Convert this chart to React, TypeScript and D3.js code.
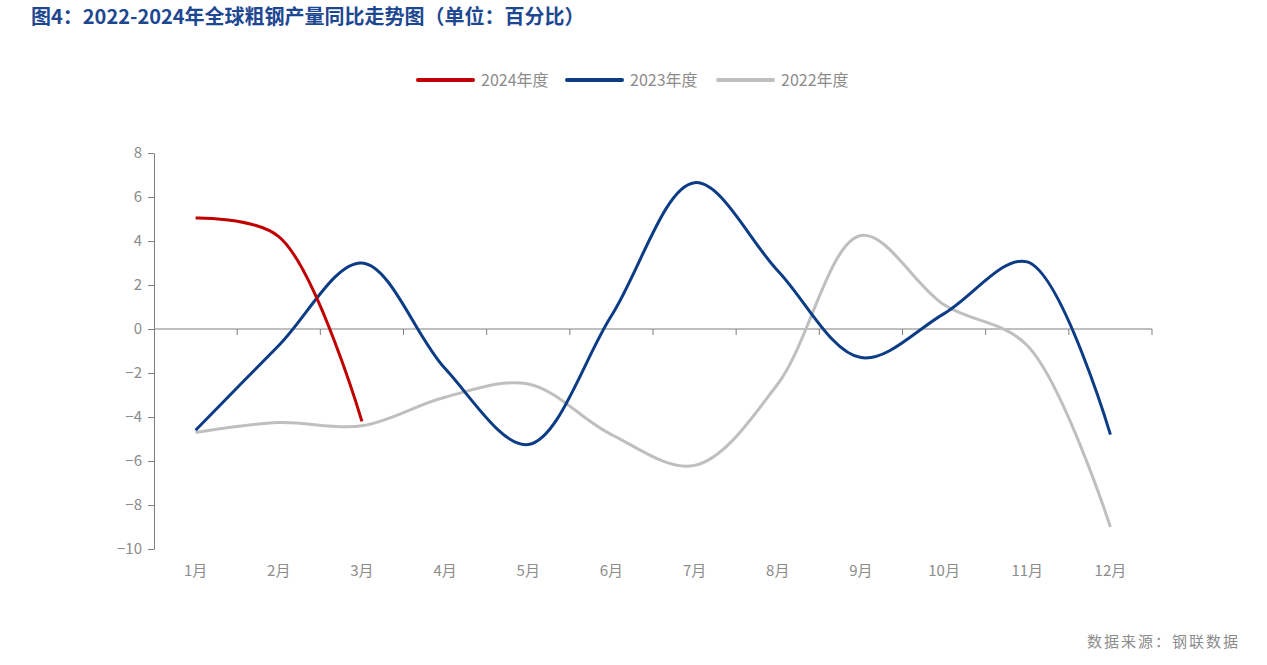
import React, { useEffect, useRef } from "react";
import * as d3 from "d3";

// months and yearly series (% YoY)
const months = ["1月", "2月", "3月", "4月", "5月", "6月", "7月", "8月", "9月", "10月", "11月", "12月"];
const y2024 = [5.05, 4.2, -4.2];
const y2023 = [-4.6, -0.75, 3.0, -1.8, -5.25, 0.6, 6.65, 2.65, -1.3, 0.7, 3.05, -4.8];
const y2022 = [-4.7, -4.25, -4.4, -3.1, -2.5, -4.8, -6.2, -2.5, 4.25, 1.1, -0.75, -9.0];
const yTicks = [-10, -8, -6, -4, -2, 0, 2, 4, 6, 8];

const series = [
  { name: "2024年度", values: y2024, color: "#C00000" },
  { name: "2023年度", values: y2023, color: "#0B3C85" },
  { name: "2022年度", values: y2022, color: "#BFBFBF" },
];

const W = 1267;
const H = 665;
const FONT = "'Noto Sans CJK SC', 'Noto Sans', sans-serif";

const App = () => {
  const ref = useRef<SVGSVGElement>(null);

  useEffect(() => {
    const svg = d3.select(ref.current);
    svg.selectAll("*").remove();

    const left = 154, right = 1152, top = 153, bottom = 549;

    const x = d3.scaleBand().domain(months).range([left, right]);
    const y = d3.scaleLinear().domain([-10, 8]).range([bottom, top]);

    svg.append("rect").attr("width", W).attr("height", H).attr("fill", "#fff");

    // title
    svg.append("text")
      .attr("x", 31).attr("y", 24)
      .attr("fill", "#1D4790")
      .style("font-family", FONT)
      .style("font-weight", "bold")
      .style("font-size", "20px")
      .text("图4：2022-2024年全球粗钢产量同比走势图（单位：百分比）");

    // legend
    const legendX = [418, 567, 718];
    series.forEach((s, i) => {
      const g = svg.append("g").attr("transform", `translate(${legendX[i]}, 80)`);
      g.append("line")
        .attr("x1", 0).attr("x2", 55).attr("y1", 0).attr("y2", 0)
        .attr("stroke", s.color).attr("stroke-width", 4).attr("stroke-linecap", "round");
      g.append("text")
        .attr("x", 63).attr("y", 6)
        .attr("fill", "#8C8C8C")
        .style("font-family", FONT)
        .style("font-size", "16px")
        .text(s.name);
    });

    // y axis
    const yAxis = svg.append("g")
      .attr("transform", `translate(${left}, 0)`)
      .call(d3.axisLeft(y).tickValues(yTicks).tickSize(6).tickSizeOuter(0).tickPadding(6)
        .tickFormat(d => (+d < 0 ? "−" + Math.abs(+d) : String(d))));
    yAxis.select(".domain").attr("stroke", "#7F7F7F");
    yAxis.selectAll(".tick line").attr("stroke", "#7F7F7F");
    yAxis.selectAll("text")
      .attr("fill", "#8C8C8C")
      .style("font-family", FONT)
      .style("font-size", "15px");

    // x axis at zero
    const y0 = y(0);
    svg.append("line")
      .attr("x1", left).attr("x2", right).attr("y1", y0).attr("y2", y0)
      .attr("stroke", "#7F7F7F").attr("stroke-width", 1);
    const bounds = months.map(m => x(m)! + x.bandwidth());
    svg.selectAll(".xtick")
      .data(bounds)
      .enter()
      .append("line")
      .attr("x1", d => d).attr("x2", d => d)
      .attr("y1", y0).attr("y2", y0 + 6)
      .attr("stroke", "#7F7F7F");

    svg.selectAll(".xlabel")
      .data(months)
      .enter()
      .append("text")
      .attr("x", d => x(d)! + x.bandwidth() / 2)
      .attr("y", 576)
      .attr("text-anchor", "middle")
      .attr("fill", "#8C8C8C")
      .style("font-family", FONT)
      .style("font-size", "15px")
      .text(d => d);

    // lines
    const line = d3.line<number>()
      .x((_, i) => x(months[i])! + x.bandwidth() / 2)
      .y(d => y(d))
      .curve(d3.curveCatmullRom.alpha(0.5));

    [...series].reverse().forEach(s => {
      svg.append("path")
        .datum(s.values)
        .attr("d", line)
        .attr("fill", "none")
        .attr("stroke", s.color)
        .attr("stroke-width", 3);
    });

    // source
    svg.append("text")
      .attr("x", 1240).attr("y", 647)
      .attr("text-anchor", "end")
      .attr("fill", "#8C8C8C")
      .style("font-family", FONT)
      .style("font-size", "15px")
      .style("letter-spacing", "2px")
      .text("数据来源：钢联数据");
  }, []);

  return <svg ref={ref} width={W} height={H} style={{ display: "block", position: "absolute", left: 0, top: 0 }}></svg>;
};

export default App;
